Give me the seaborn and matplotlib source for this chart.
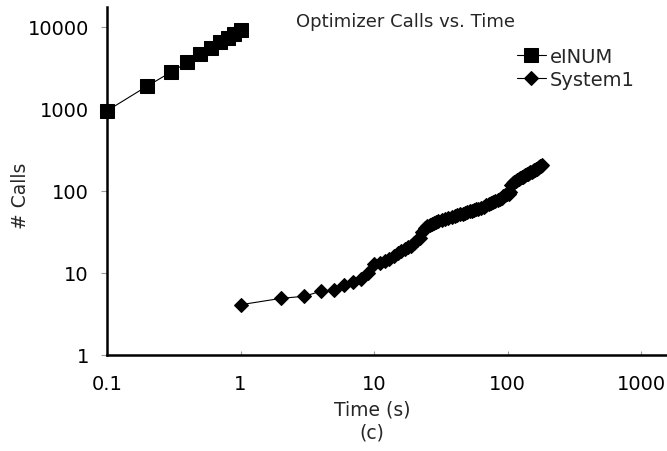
import matplotlib
matplotlib.use("Agg")
import matplotlib.pyplot as plt
from matplotlib.ticker import FixedLocator, NullLocator
import seaborn as sns
import pandas as pd

# eINUM: optimizer calls vs elapsed time
einum_time = [0.1, 0.2, 0.3, 0.4, 0.5, 0.6, 0.7, 0.8, 0.9, 1.0]
einum_calls = [950, 1900, 2800, 3700, 4700, 5600, 6500, 7400, 8300, 9300]

# System1: optimizer calls vs elapsed time
sys1_time = [1, 2, 3, 4, 5, 6, 7, 8, 9,
             10, 11, 12, 13, 14, 15, 16, 17, 18, 19, 20, 21, 22, 23, 24, 25,
             26, 27, 28, 29, 30,
             32, 34, 36, 38, 40, 42, 44, 46, 48, 50, 52, 54, 56, 58, 60,
             63, 66, 69, 72, 75, 78, 81, 84, 87, 90, 93, 96, 99, 102,
             104, 106, 109, 112, 115, 118, 121, 124, 127, 130, 133, 136, 139,
             142, 145, 148, 151, 154, 157, 160, 163, 166, 169, 172, 175, 178, 181]
sys1_calls = [4.1, 4.9, 5.2, 6.0, 6.2, 7.2, 7.8, 8.4, 10.0,
              12.8, 13.2, 14, 15, 16, 17.5, 18.5, 19.5, 20.5, 21.5, 23, 25, 27,
              32, 35, 37, 38.5, 39.5, 40.5, 41.5, 42.5,
              44, 45.5, 47, 48.5, 50, 51, 52, 53, 54, 55.5, 56.5, 57.5, 58.5,
              60, 61,
              62.5, 64.5, 66.5, 68.5, 70.5, 73, 75, 77.5, 80, 83, 86, 89, 91, 93,
              96, 118, 124, 128, 132, 135, 138, 142, 146, 150, 153, 157, 160,
              163, 166, 169, 172, 175, 178, 181, 184, 187, 191, 195, 199, 203, 207]

x_ticks = [0.1, 1, 10, 100, 1000]
x_tick_labels = ["0.1", "1", "10", "100", "1000"]
y_ticks = [1, 10, 100, 1000, 10000]
y_tick_labels = ["1", "10", "100", "1000", "10000"]

df_einum = pd.DataFrame({"Time": einum_time, "Calls": einum_calls})
df_sys1 = pd.DataFrame({"Time": sys1_time, "Calls": sys1_calls})

sns.set_theme(style="white")
plt.rcParams["font.family"] = ["DejaVu Sans"]

fig = plt.figure(figsize=(6.67, 4.52), dpi=100)
ax = fig.add_axes([107 / 667, 1 - 356 / 452, 1 - 107 / 667, (356 - 8) / 452])

sns.lineplot(data=df_einum, x="Time", y="Calls", ax=ax, color="black",
             marker="s", markersize=9.5, markeredgecolor="black",
             linewidth=0.8, estimator=None, label="eINUM", clip_on=False)
sns.lineplot(data=df_sys1, x="Time", y="Calls", ax=ax, color="black",
             marker="D", markersize=7, markeredgecolor="black",
             linewidth=0.8, estimator=None, label="System1")

ax.set_xscale("log")
ax.set_yscale("log")
ax.set_xlim(0.1, 1560)
ax.set_ylim(1, 17500)

ax.xaxis.set_major_locator(FixedLocator(x_ticks))
ax.set_xticklabels(x_tick_labels)
ax.yaxis.set_major_locator(FixedLocator(y_ticks))
ax.set_yticklabels(y_tick_labels)
ax.xaxis.set_minor_locator(NullLocator())
ax.yaxis.set_minor_locator(NullLocator())

ax.tick_params(axis="x", direction="in", length=3, width=0.8, color="#999999",
               labelsize=14, pad=14, labelcolor="black")
ax.tick_params(axis="y", direction="out", length=4, width=0.8, color="#999999",
               labelsize=14, pad=9, labelcolor="black")
ax.tick_params(axis="both", which="both", bottom=True, left=True)

for side in ("top", "right"):
    ax.spines[side].set_visible(False)
for side in ("left", "bottom"):
    ax.spines[side].set_color("black")
    ax.spines[side].set_linewidth(1.8)

ax.set_xlabel("")
ax.set_ylabel("")
ax.grid(False)

fig.text(372 / 667, 1 - 410 / 452, "Time (s)", ha="center", va="center", fontsize=13.5)
fig.text(372 / 667, 1 - 433 / 452, "(c)", ha="center", va="center", fontsize=13.5)
fig.text(20 / 667, 1 - 196 / 452, "# Calls", ha="center", va="center",
         rotation=90, fontsize=13.5)
fig.text(406 / 667, 1 - 22 / 452, "Optimizer Calls vs. Time", ha="center",
         va="center", fontsize=13)

handles, labels = ax.get_legend_handles_labels()
ax.legend(handles, labels, loc="upper left", bbox_to_anchor=(507 / 667, 1 - 38 / 452),
          bbox_transform=fig.transFigure, frameon=False, fontsize=14,
          handlelength=1.5, handletextpad=0.2, labelspacing=0.2, borderpad=0)

fig.savefig("out.png", dpi=100)
